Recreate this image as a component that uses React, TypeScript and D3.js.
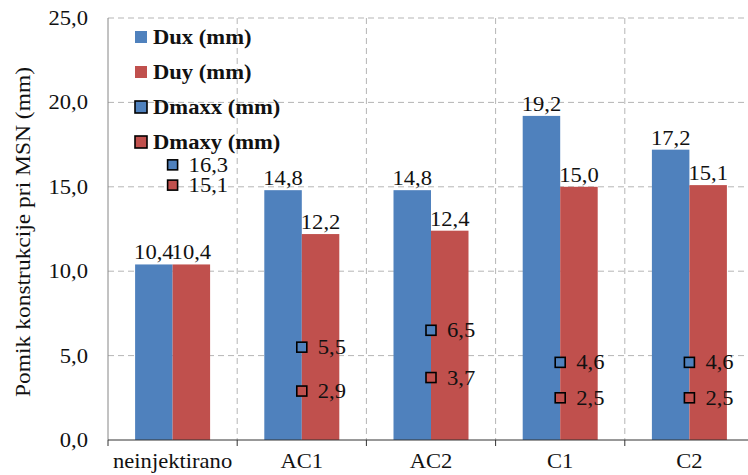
import React from "react";
import * as d3 from "d3";

const categories = ["neinjektirano", "AC1", "AC2", "C1", "C2"];
const dux = [10.4, 14.8, 14.8, 19.2, 17.2];
const duy = [10.4, 12.2, 12.4, 15.0, 15.1];
const dmaxx = [16.3, 5.5, 6.5, 4.6, 4.6];
const dmaxy = [15.1, 2.9, 3.7, 2.5, 2.5];
const yTicks = [0, 5, 10, 15, 20, 25];
const legendNames = ["Dux (mm)", "Duy (mm)", "Dmaxx (mm)", "Dmaxy (mm)"];

const BLUE = "#4F81BD";
const RED = "#C0504D";
const FONT = "Liberation Serif";
const SX = 1.13; // source picture is stretched a bit horizontally
const fmt = (v: number) => v.toFixed(1).replace(".", ",");

const width = 748;
const height = 475;
const margin = { top: 18, right: -6, bottom: 35, left: 108 };

const x = d3
  .scaleBand()
  .domain(categories)
  .range([margin.left, width - margin.right]);
const y = d3
  .scaleLinear()
  .domain([0, 25])
  .range([height - margin.bottom, margin.top]);
const bw = 37.5;
const center = (c: string) => x(c)! + x.bandwidth() / 2;

// stretched text
const T: React.FC<{
  x: number;
  y: number;
  anchor?: "start" | "middle" | "end";
  bold?: boolean;
  children: React.ReactNode;
}> = ({ x: tx, y: ty, anchor = "start", bold = false, children }) => (
  <text
    transform={`translate(${tx},${ty}) scale(${SX},1)`}
    textAnchor={anchor}
    fontFamily={FONT}
    fontSize={20}
    fontWeight={bold ? 700 : 400}
    fill="#111"
  >
    {children}
  </text>
);

export default function App() {
  const series = [
    { vals: dux, color: BLUE, off: -bw },
    { vals: duy, color: RED, off: 0 },
  ];
  const markers = [
    { vals: dmaxx, color: BLUE },
    { vals: dmaxy, color: RED },
  ];
  const legendColors = [BLUE, RED, BLUE, RED];

  return (
    <svg
      width={width}
      height={height}
      fontFamily={FONT}
      style={{ position: "absolute", left: 0, top: 0, background: "#fff" }}
    >
      {/* grid */}
      {yTicks
        .filter((t) => t > 0)
        .map((t) => (
          <line
            key={"h" + t}
            x1={margin.left}
            x2={width}
            y1={y(t)}
            y2={y(t)}
            stroke="#b5b5b5"
            strokeDasharray="6,4"
          />
        ))}
      {categories.slice(1).map((c) => (
        <line
          key={"v" + c}
          x1={x(c)}
          x2={x(c)}
          y1={y(25)}
          y2={y(0)}
          stroke="#b5b5b5"
          strokeDasharray="6,4"
        />
      ))}
      <line x1={margin.left} x2={margin.left} y1={y(25)} y2={y(0)} stroke="#868686" />

      {/* bars */}
      {series.map((s, si) => (
        <g key={"s" + si}>
          {categories.map((c, i) => (
            <rect
              key={c}
              x={center(c) + s.off}
              y={y(s.vals[i])}
              width={bw}
              height={y(0) - y(s.vals[i])}
              fill={s.color}
            />
          ))}
          {categories.map((c, i) => (
            <T key={"l" + c} x={center(c) + s.off + bw / 2} y={y(s.vals[i]) - 5} anchor="middle">
              {fmt(s.vals[i])}
            </T>
          ))}
        </g>
      ))}

      {/* markers */}
      {markers.map((m, mi) => (
        <g key={"m" + mi}>
          {categories.map((c, i) => (
            <rect
              key={c}
              x={center(c) - 5}
              y={y(m.vals[i]) - 5}
              width={10}
              height={10}
              fill={m.color}
              stroke="#000"
              strokeWidth={1.6}
            />
          ))}
          {categories.map((c, i) => (
            <T key={"l" + c} x={center(c) + 16} y={y(m.vals[i]) + 7}>
              {fmt(m.vals[i])}
            </T>
          ))}
        </g>
      ))}

      {/* x axis */}
      <line x1={margin.left} x2={width} y1={y(0)} y2={y(0)} stroke="#333" />
      {categories.map((c) => (
        <line key={"t" + c} x1={x(c)} x2={x(c)} y1={y(0)} y2={y(0) + 6} stroke="#333" />
      ))}
      {categories.map((c) => (
        <T key={"xl" + c} x={center(c)} y={y(0) + 28} anchor="middle">
          {c}
        </T>
      ))}

      {/* y axis labels */}
      {yTicks.map((t) => (
        <T key={"yl" + t} x={margin.left - 20} y={y(t) + 7} anchor="end">
          {fmt(t)}
        </T>
      ))}
      <text
        transform={`translate(30,232) rotate(-90)`}
        textAnchor="middle"
        fontFamily={FONT}
        fontSize={22}
        textLength={330}
        lengthAdjust="spacingAndGlyphs"
        fill="#111"
      >
        Pomik konstrukcije pri MSN (mm)
      </text>

      {/* legend */}
      {legendNames.map((name, i) => {
        const ly = 37 + i * 35;
        return (
          <g key={name}>
            <rect
              x={135}
              y={ly - 6}
              width={12}
              height={12}
              fill={legendColors[i]}
              stroke={i >= 2 ? "#000" : "none"}
              strokeWidth={1.6}
            />
            <T x={153} y={ly + 7} bold>
              {name}
            </T>
          </g>
        );
      })}
    </svg>
  );
}
